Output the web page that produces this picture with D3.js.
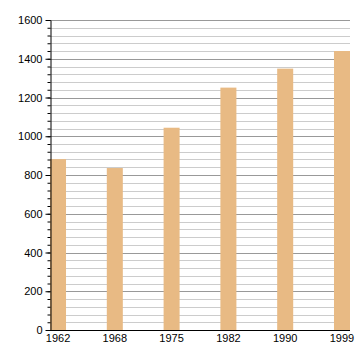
<!DOCTYPE html>
<html><head><meta charset="utf-8">
<script src="https://cdn.jsdelivr.net/npm/d3@7"></script>
<style>body{margin:0;background:#fff}svg{display:block}</style>
</head><body>
<svg id="c" width="360" height="360"></svg>
<script>
const years = ["1962","1968","1975","1982","1990","1999"];
const population = [882, 836, 1044, 1251, 1349, 1440];
const majorTicks = [0,200,400,600,800,1000,1200,1400,1600];

(function(){
const svg = d3.select("#c");
const mLeft = 50, mRight = 350, mTop = 20, mBottom = 330;
const x = d3.scaleBand().domain(years).range([mLeft, mRight]).paddingInner(0.718).paddingOuter(0);
const y = d3.scaleLinear().domain([0,1600]).range([mBottom, mTop]);
const minor = d3.range(0, 1601, 40);

svg.append("g").selectAll("line").data(minor.filter(v => v % 200 !== 0)).join("line")
  .attr("x1", mLeft).attr("x2", mRight)
  .attr("y1", d => Math.round(y(d)) + 0.5).attr("y2", d => Math.round(y(d)) + 0.5)
  .attr("stroke", "#cccccc").attr("stroke-width", 1);
svg.append("g").selectAll("line").data(majorTicks.filter(v => v > 0)).join("line")
  .attr("x1", mLeft).attr("x2", mRight)
  .attr("y1", d => Math.round(y(d)) + 0.5).attr("y2", d => Math.round(y(d)) + 0.5)
  .attr("stroke", "#999999").attr("stroke-width", 1);

svg.append("g").selectAll("rect").data(years).join("rect")
  .attr("x", d => x(d)).attr("width", x.bandwidth())
  .attr("y", (d, i) => y(population[i])).attr("height", (d, i) => mBottom - y(population[i]))
  .attr("fill", "#e8ba84");

svg.append("g").attr("transform", `translate(${mLeft+0.5},0)`)
  .call(d3.axisLeft(y).tickValues(minor).tickSize(3).tickFormat(""))
  .call(g => g.select(".domain").remove())
  .selectAll("line").attr("stroke", "#000");
const ya = svg.append("g").attr("transform", `translate(${mLeft+0.5},0)`)
  .call(d3.axisLeft(y).tickValues(majorTicks).tickSize(5).tickSizeOuter(0).tickPadding(3).tickFormat(d3.format("d")));
ya.select(".domain").attr("stroke", "#000");
ya.selectAll("text").attr("font-family", "Liberation Sans, Arial, sans-serif").attr("font-size", 11).attr("fill", "#000");

const xa = svg.append("g").attr("transform", `translate(0,${mBottom+0.5})`)
  .call(d3.axisBottom(x).tickSize(0).tickSizeOuter(0).tickPadding(4));
xa.select(".domain").attr("stroke", "#000").attr("d", `M${mLeft},0H${mRight}`);
xa.selectAll("text").attr("font-family", "Liberation Sans, Arial, sans-serif").attr("font-size", 11).attr("fill", "#000");
})();
</script>
</body></html>
